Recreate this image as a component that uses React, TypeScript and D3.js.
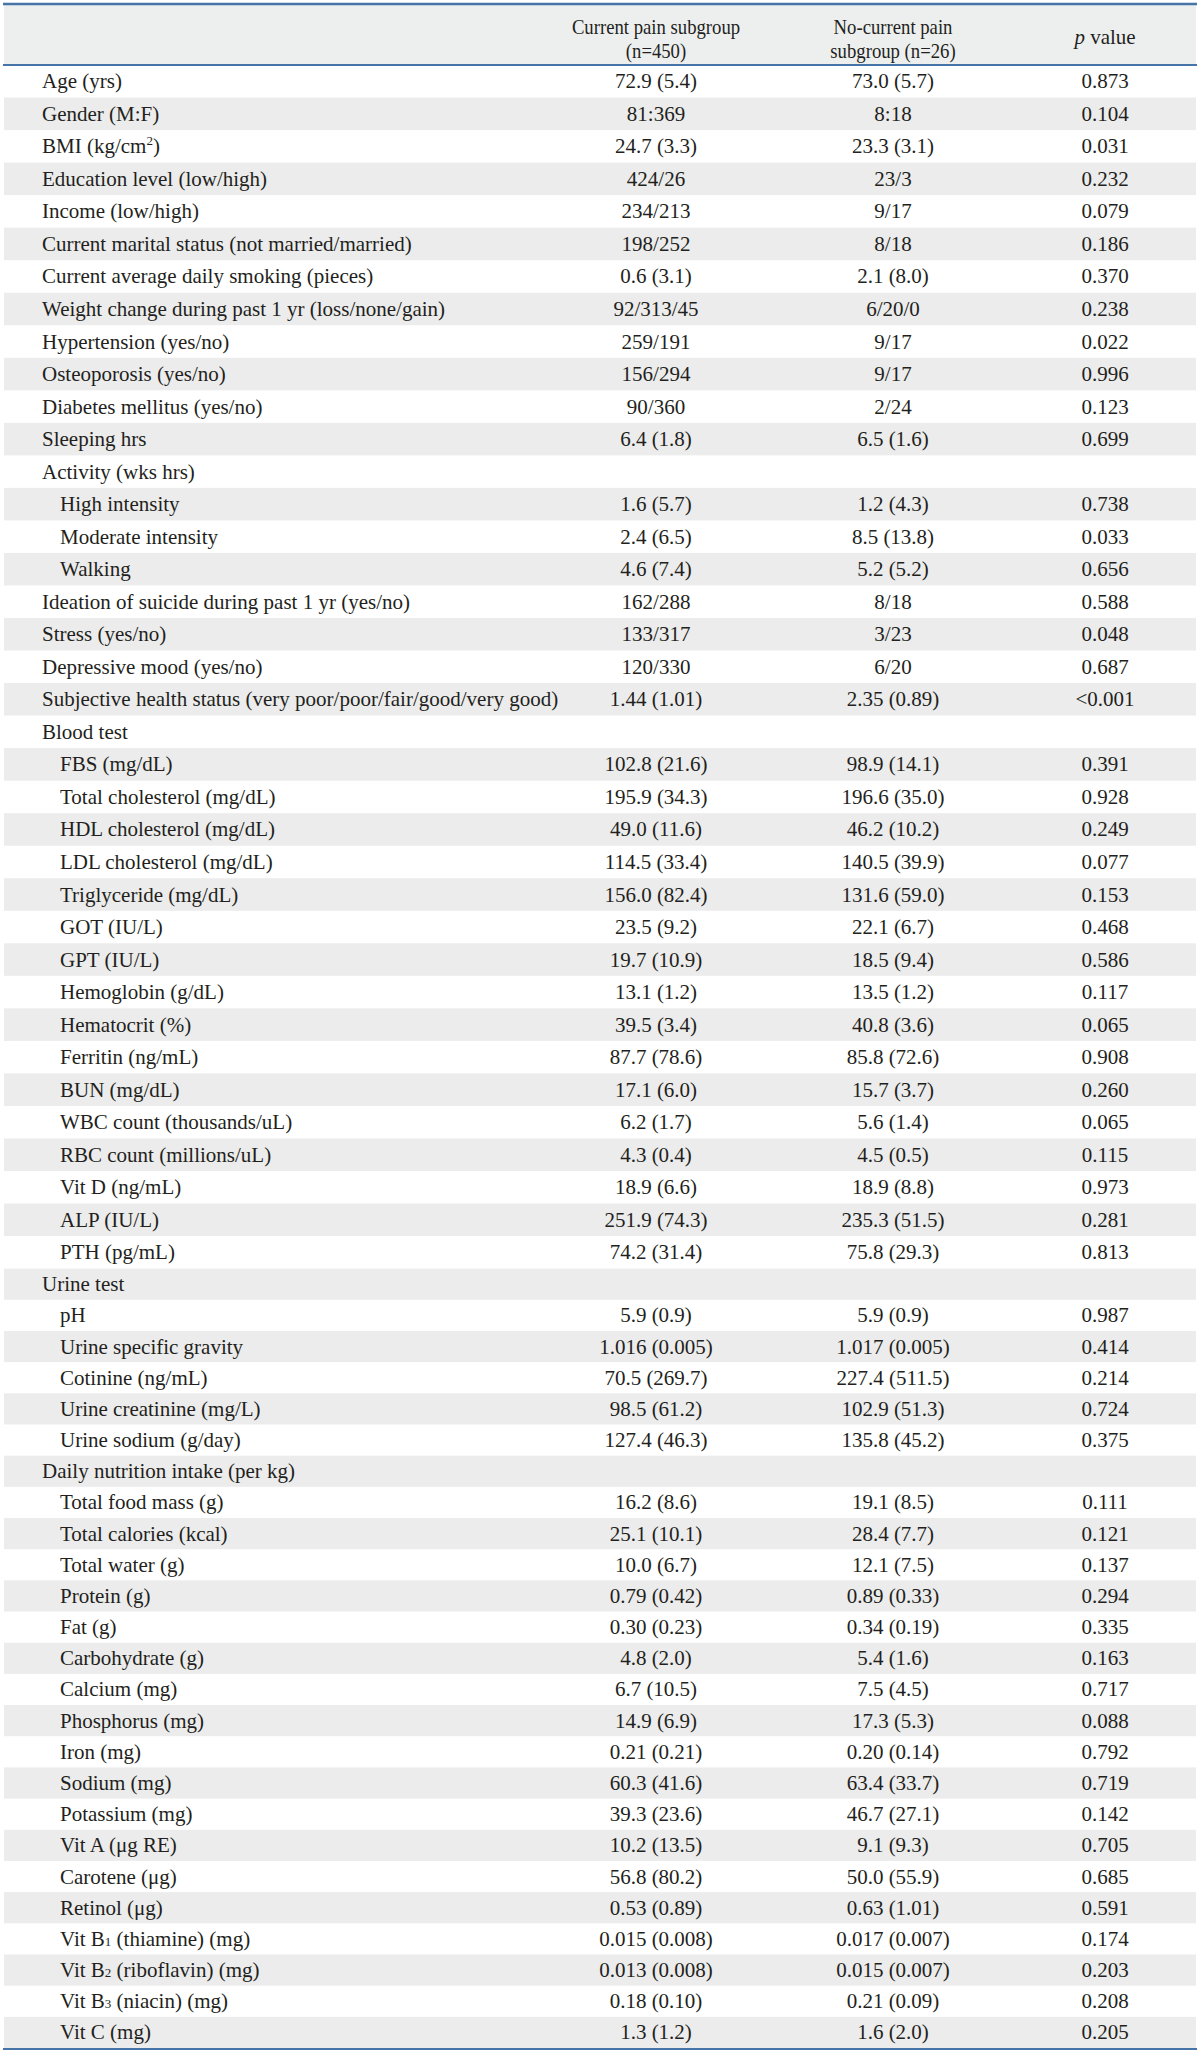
import React from 'react';
import * as d3 from 'd3';

// row labels; "^x" = superscript, "_x" = subscript
const labels = [
  'Age (yrs)', 'Gender (M:F)', 'BMI (kg/cm^2)', 'Education level (low/high)', 'Income (low/high)',
  'Current marital status (not married/married)', 'Current average daily smoking (pieces)',
  'Weight change during past 1 yr (loss/none/gain)', 'Hypertension (yes/no)', 'Osteoporosis (yes/no)',
  'Diabetes mellitus (yes/no)', 'Sleeping hrs', 'Activity (wks hrs)', 'High intensity', 'Moderate intensity',
  'Walking', 'Ideation of suicide during past 1 yr (yes/no)', 'Stress (yes/no)', 'Depressive mood (yes/no)',
  'Subjective health status (very poor/poor/fair/good/very good)', 'Blood test', 'FBS (mg/dL)',
  'Total cholesterol (mg/dL)', 'HDL cholesterol (mg/dL)', 'LDL cholesterol (mg/dL)', 'Triglyceride (mg/dL)',
  'GOT (IU/L)', 'GPT (IU/L)', 'Hemoglobin (g/dL)', 'Hematocrit (%)', 'Ferritin (ng/mL)', 'BUN (mg/dL)',
  'WBC count (thousands/uL)', 'RBC count (millions/uL)', 'Vit D (ng/mL)', 'ALP (IU/L)', 'PTH (pg/mL)',
  'Urine test', 'pH', 'Urine specific gravity', 'Cotinine (ng/mL)', 'Urine creatinine (mg/L)',
  'Urine sodium (g/day)', 'Daily nutrition intake (per kg)', 'Total food mass (g)', 'Total calories (kcal)',
  'Total water (g)', 'Protein (g)', 'Fat (g)', 'Carbohydrate (g)', 'Calcium (mg)', 'Phosphorus (mg)',
  'Iron (mg)', 'Sodium (mg)', 'Potassium (mg)', 'Vit A (μg RE)', 'Carotene (μg)', 'Retinol (μg)',
  'Vit B_1 (thiamine) (mg)', 'Vit B_2 (riboflavin) (mg)', 'Vit B_3 (niacin) (mg)', 'Vit C (mg)',
];

// 1 = sub-item (indented)
const levels = [
  0, 0, 0, 0, 0, 0, 0, 0, 0, 0, 0, 0, 0, 1, 1, 1, 0, 0, 0, 0,
  0, 1, 1, 1, 1, 1, 1, 1, 1, 1, 1, 1, 1, 1, 1, 1, 1,
  0, 1, 1, 1, 1, 1,
  0, 1, 1, 1, 1, 1, 1, 1, 1, 1, 1, 1, 1, 1, 1, 1, 1, 1, 1,
];

const currentPain = [
  '72.9 (5.4)', '81:369', '24.7 (3.3)', '424/26', '234/213', '198/252', '0.6 (3.1)', '92/313/45',
  '259/191', '156/294', '90/360', '6.4 (1.8)', '', '1.6 (5.7)', '2.4 (6.5)', '4.6 (7.4)', '162/288',
  '133/317', '120/330', '1.44 (1.01)', '', '102.8 (21.6)', '195.9 (34.3)', '49.0 (11.6)', '114.5 (33.4)',
  '156.0 (82.4)', '23.5 (9.2)', '19.7 (10.9)', '13.1 (1.2)', '39.5 (3.4)', '87.7 (78.6)', '17.1 (6.0)',
  '6.2 (1.7)', '4.3 (0.4)', '18.9 (6.6)', '251.9 (74.3)', '74.2 (31.4)', '', '5.9 (0.9)',
  '1.016 (0.005)', '70.5 (269.7)', '98.5 (61.2)', '127.4 (46.3)', '', '16.2 (8.6)', '25.1 (10.1)',
  '10.0 (6.7)', '0.79 (0.42)', '0.30 (0.23)', '4.8 (2.0)', '6.7 (10.5)', '14.9 (6.9)', '0.21 (0.21)',
  '60.3 (41.6)', '39.3 (23.6)', '10.2 (13.5)', '56.8 (80.2)', '0.53 (0.89)', '0.015 (0.008)',
  '0.013 (0.008)', '0.18 (0.10)', '1.3 (1.2)',
];

const noCurrentPain = [
  '73.0 (5.7)', '8:18', '23.3 (3.1)', '23/3', '9/17', '8/18', '2.1 (8.0)', '6/20/0', '9/17', '9/17',
  '2/24', '6.5 (1.6)', '', '1.2 (4.3)', '8.5 (13.8)', '5.2 (5.2)', '8/18', '3/23', '6/20', '2.35 (0.89)',
  '', '98.9 (14.1)', '196.6 (35.0)', '46.2 (10.2)', '140.5 (39.9)', '131.6 (59.0)', '22.1 (6.7)',
  '18.5 (9.4)', '13.5 (1.2)', '40.8 (3.6)', '85.8 (72.6)', '15.7 (3.7)', '5.6 (1.4)', '4.5 (0.5)',
  '18.9 (8.8)', '235.3 (51.5)', '75.8 (29.3)', '', '5.9 (0.9)', '1.017 (0.005)', '227.4 (511.5)',
  '102.9 (51.3)', '135.8 (45.2)', '', '19.1 (8.5)', '28.4 (7.7)', '12.1 (7.5)', '0.89 (0.33)',
  '0.34 (0.19)', '5.4 (1.6)', '7.5 (4.5)', '17.3 (5.3)', '0.20 (0.14)', '63.4 (33.7)', '46.7 (27.1)',
  '9.1 (9.3)', '50.0 (55.9)', '0.63 (1.01)', '0.017 (0.007)', '0.015 (0.007)', '0.21 (0.09)',
  '1.6 (2.0)',
];

const pValues = [
  '0.873', '0.104', '0.031', '0.232', '0.079', '0.186', '0.370', '0.238', '0.022', '0.996', '0.123',
  '0.699', '', '0.738', '0.033', '0.656', '0.588', '0.048', '0.687', '<0.001', '', '0.391', '0.928',
  '0.249', '0.077', '0.153', '0.468', '0.586', '0.117', '0.065', '0.908', '0.260', '0.065', '0.115',
  '0.973', '0.281', '0.813', '', '0.987', '0.414', '0.214', '0.724', '0.375', '', '0.111', '0.121',
  '0.137', '0.294', '0.335', '0.163', '0.717', '0.088', '0.792', '0.719', '0.142', '0.705', '0.685',
  '0.591', '0.174', '0.203', '0.208', '0.205',
];

// two-line column headings
const headCurrent = ['Current pain subgroup', '(n=450)'];
const headNoCurrent = ['No-current pain', 'subgroup (n=26)'];

const WIDTH = 1200;
const HEIGHT = 2055;
const FONT = '"Liberation Serif", "Times New Roman", serif';
const TEXT = '#231f20';
const BLUE = '#4673a8';
const SHADE = '#ececec';

// split "^x" / "_x" markers into tspans
const richText = (s: string) => {
  const parts: React.ReactNode[] = [];
  const re = /([\^_])(\S)/g;
  let last = 0;
  let m: RegExpExecArray | null;
  let k = 0;
  let pendingDy = 0;
  while ((m = re.exec(s)) !== null) {
    if (m.index > last) {
      parts.push(<tspan key={k++} dy={pendingDy || undefined}>{s.slice(last, m.index)}</tspan>);
      pendingDy = 0;
    }
    if (m[1] === '^') {
      parts.push(<tspan key={k++} fontSize={13} dy={-8}>{m[2]}</tspan>);
      pendingDy = 8;
    } else {
      parts.push(<tspan key={k++} fontSize={13}>{m[2]}</tspan>);
    }
    last = m.index + m[0].length;
  }
  if (last < s.length) parts.push(<tspan key={k++} dy={pendingDy || undefined}>{s.slice(last)}</tspan>);
  return parts;
};

const App = () => {
  const n = labels.length;
  // the lower part of the table has slightly tighter rows
  const y = d3.scaleLinear().domain([0, 37, n]).range([65, 1268.6, 2048]);
  const colX = d3.scaleOrdinal<string, number>()
    .domain(['current', 'noCurrent', 'p'])
    .range([656, 893, 1105]);

  const left = 4;
  const right = 1196;

  // heading text in the source is set a little narrower than the body
  const head = (lines: string[], cx: number) =>
    lines.map((t, j) => (
      <text key={j} transform={`translate(${cx},${34 + j * 24}) scale(0.87,1)`}>{t}</text>
    ));

  return (
    <svg
      width={WIDTH}
      height={HEIGHT}
      style={{ position: 'absolute', left: 0, top: 0, background: '#fff' }}
      fontFamily={FONT}
      fill={TEXT}
    >
      {/* header */}
      <rect x={left} y={4} width={right - left} height={y(0) - 4} fill="#edefef" />
      <line x1={left - 1} x2={right + 1} y1={4} y2={4} stroke={BLUE} strokeWidth={2.5} />
      <g fontSize={21.5} textAnchor="middle">
        {head(headCurrent, colX('current'))}
        {head(headNoCurrent, colX('noCurrent'))}
        <text x={colX('p')} y={44} fontSize={21}>
          <tspan fontStyle="italic">p</tspan> value
        </text>
      </g>

      {/* body rows */}
      {labels.map((label, i) => {
        const top = y(i);
        const h = y(i + 1) - y(i);
        const base = top + h / 2 + 7;
        return (
          <g key={i} fontSize={21}>
            {i % 2 === 1 && <rect x={left} y={top} width={right - left} height={h} fill={SHADE} />}
            <text x={levels[i] ? 60 : 42} y={base}>{richText(label)}</text>
            <text x={colX('current')} y={base} textAnchor="middle">{currentPain[i]}</text>
            <text x={colX('noCurrent')} y={base} textAnchor="middle">{noCurrentPain[i]}</text>
            <text x={colX('p')} y={base} textAnchor="middle">{pValues[i]}</text>
          </g>
        );
      })}

      <line x1={left - 1} x2={right + 1} y1={y(0)} y2={y(0)} stroke={BLUE} strokeWidth={2} />
      <line x1={left - 1} x2={right + 1} y1={y(n) + 1} y2={y(n) + 1} stroke={BLUE} strokeWidth={2} />
    </svg>
  );
};

export default App;
